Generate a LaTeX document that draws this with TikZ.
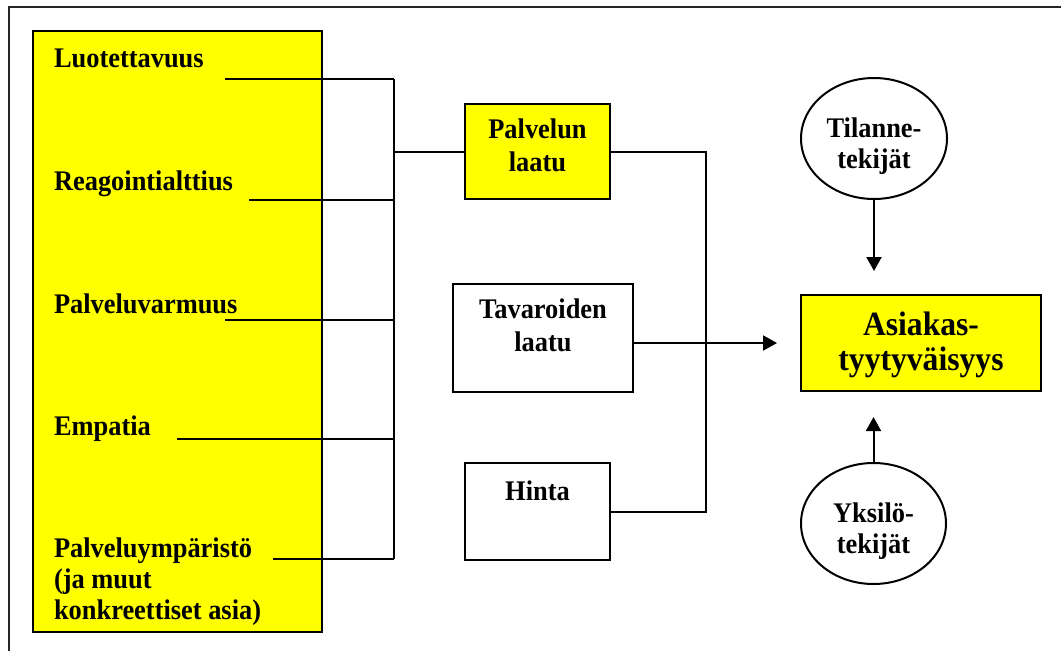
\documentclass[tikz,border=0pt]{standalone}
\usepackage{fontspec}
\setmainfont{Liberation Serif}[FakeStretch=0.93]
\usetikzlibrary{shapes.geometric,arrows.meta}
\newcommand\ctrlines[1]{\vtop{\halign{\hfil##\hfil\cr#1\crcr}}}
\newcommand\leftlines[1]{\vtop{\halign{##\hfil\cr#1\crcr}}}
\definecolor{ylw}{RGB}{255,255,0}
\tikzset{
  boxshape/.style={draw=black, line width=2.2pt, inner sep=0pt, outer sep=0pt, rectangle},
  yfill/.style={fill=ylw},
  wfill/.style={fill=white},
  ovalshape/.style={draw=black, line width=2pt, ellipse, inner sep=0pt, outer sep=0pt, fill=white},
  txt/.style={inner sep=0pt, outer sep=0pt, font=\fontsize{28.4}{33}\selectfont\bfseries},
  lefttxt/.style={inner sep=0pt, outer sep=0pt, font=\fontsize{28.4}{31}\selectfont\bfseries},
  bigtxt/.style={inner sep=0pt, outer sep=0pt, font=\fontsize{34}{35}\selectfont\bfseries},
  ovaltxt/.style={inner sep=0pt, outer sep=0pt, font=\fontsize{28.4}{31}\selectfont\bfseries},
  conn/.style={draw=black, line width=2pt},
  arr/.style={conn, -{Triangle[length=14pt,width=15pt]}},
  frameline/.style={draw=black!85, line width=2pt}
}
\begin{document}
\begin{tikzpicture}[x=1pt,y=-1pt]
\useasboundingbox (0,0) rectangle (1061,651);
% outer frame (open at right and bottom)
\draw[frameline] (9,651) -- (9,7) -- (1061,7);
% left yellow box
\node[boxshape, yfill, minimum width=289pt, minimum height=601pt] (leftbox) at (177.5,331.5) {};
\node[lefttxt, anchor=base west] (t1) at (54,67) {Luotettavuus};
\node[lefttxt, anchor=base west] (t2) at (54,190) {Reagointialttius};
\node[lefttxt, anchor=base west] (t3) at (54,313) {Palveluvarmuus};
\node[lefttxt, anchor=base west] (t4) at (54,435) {Empatia};
\node[lefttxt, anchor=base west] (t5) at (54,557) {\leftlines{Palveluympäristö\cr (ja muut\cr konkreettiset asia)}};
% middle boxes
\node[boxshape, yfill, minimum width=145pt, minimum height=95pt] (pl) at (537.5,151.5) {};
\node[txt, anchor=base] (pltxt) at (537.5,138) {\ctrlines{Palvelun\cr laatu}};
\node[boxshape, wfill, minimum width=180pt, minimum height=108pt] (tl) at (543,338) {};
\node[txt, anchor=base] (tltxt) at (543,318) {\ctrlines{Tavaroiden\cr laatu}};
\node[boxshape, wfill, minimum width=145pt, minimum height=97pt] (hi) at (537.5,511.5) {};
\node[txt, anchor=base] (hitxt) at (537.5,500) {Hinta};
% right
\node[boxshape, yfill, minimum width=240pt, minimum height=96pt] (as) at (921,343) {};
\node[bigtxt, anchor=base] (astxt) at (921,335) {\ctrlines{Asiakas-\cr tyytyväisyys}};
\node[ovalshape, minimum width=146pt, minimum height=121pt] (til) at (874,138.5) {};
\node[ovaltxt, anchor=base] (tiltxt) at (874,137) {\ctrlines{Tilanne-\cr tekijät}};
\node[ovalshape, minimum width=145pt, minimum height=121pt] (yks) at (873.5,523.5) {};
\node[ovaltxt, anchor=base] (ykstxt) at (873.5,522) {\ctrlines{Yksilö-\cr tekijät}};
% connector coordinates
\coordinate (e1) at (225,79);  \coordinate (b1) at (394,79);
\coordinate (e2) at (249,200); \coordinate (b2) at (394,200);
\coordinate (e3) at (225,320); \coordinate (b3) at (394,320);
\coordinate (e4) at (177,439); \coordinate (b4) at (394,439);
\coordinate (e5) at (273,559); \coordinate (b5) at (394,559);
\coordinate (vx) at (706,343);
% connectors
\draw[conn] (e1) -- (b1);
\draw[conn] (e2) -- (b2);
\draw[conn] (e3) -- (b3);
\draw[conn] (e4) -- (b4);
\draw[conn] (e5) -- (b5);
\draw[conn] (b1) -- (b5);
\draw[conn] (pl.west -| b1) -- (pl.west);
\draw[conn] (pl.east) -- (pl.east -| vx) -- (hi.east -| vx) -- (hi.east);
\draw[arr, shorten >=24pt] (as.west -| tl.east) -- (as.west);
\draw[arr, shorten >=24pt] (til.south) -- (til.south |- as.north);
\draw[arr, shorten >=26pt] (yks.north) -- (yks.north |- as.south);
\end{tikzpicture}
\end{document}
